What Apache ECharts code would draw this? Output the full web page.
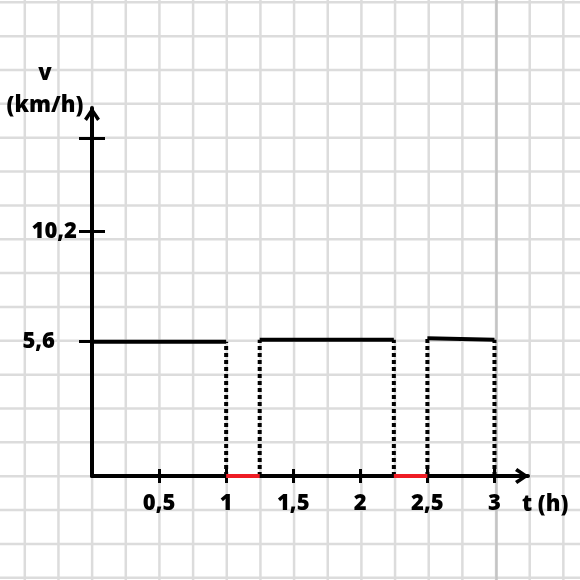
<!DOCTYPE html>
<html>
<head>
<meta charset="utf-8">
<script src="https://cdn.jsdelivr.net/npm/echarts@6/dist/echarts.min.js"></script>
<style>
html,body{margin:0;padding:0;background:#fff;}
#chart{width:580px;height:580px;}
</style>
</head>
<body>
<div id="chart"></div>
<script>
// ---- data ----
const tTicks = [0.5, 1, 1.5, 2, 2.5, 3];
const tTickLabels = ['0,5', '1', '1,5', '2', '2,5', '3'];
const vTicks = [5.6, 10.2, 14.1];
const vTickLabels = ['5,6', '10,2', ''];
const moveStart = [0, 1.25, 2.5];
const moveEnd = [1, 2.25, 3];
const moveSpeedStart = [5.6, 5.68, 5.75];
const moveSpeedEnd = [5.6, 5.68, 5.68];
const stopStart = [1, 2.25];
const stopEnd = [1.25, 2.5];
const tName = 't (h)';
const vName = 'v\n(km/h)';

// ---- styling ----
const FONT = "'Open Sans', 'DejaVu Sans', sans-serif";
const INK = '#000000';
const RED = '#ee1c24';
const chevron = 'path://M50,0 L100,74 L82,88 L50,38 L18,88 L0,74 Z';

const chart = echarts.init(document.getElementById('chart'), null, {renderer: 'canvas'});

// graph paper background (decoration)
const paper = [];
const gx0 = 24.8, gdx = 33.66, gy0 = 2.3, gdy = 33.85;
for (let k = -1; k < 19; k++) {
  const x = gx0 + gdx * k;
  paper.push({type: 'line', z: -100, silent: true,
    shape: {x1: x, y1: 0, x2: x, y2: 580},
    style: {stroke: '#dcdcdc', lineWidth: 2.5}});
}
for (let k = 0; k < 19; k++) {
  const y = gy0 + gdy * k;
  paper.push({type: 'line', z: -100, silent: true,
    shape: {x1: 0, y1: y, x2: 580, y2: y},
    style: {stroke: '#dcdcdc', lineWidth: 2.5}});
}
paper.push({type: 'line', z: -99, silent: true,
  shape: {x1: 496.5, y1: 0, x2: 496.5, y2: 580},
  style: {stroke: '#c4c4c4', lineWidth: 2.5}});

const series = [];
// moving segments
moveStart.forEach((s, i) => {
  series.push({type: 'line', xAxisIndex: 0, yAxisIndex: 0, showSymbol: false, silent: true,
    z: 5, lineStyle: {color: INK, width: 4},
    data: [[s, moveSpeedStart[i]], [moveEnd[i], moveSpeedEnd[i]]]});
});
// dotted drop lines at every boundary
const drops = [];
moveStart.forEach((s, i) => {
  if (s > 0) drops.push([s, moveSpeedStart[i]]);
  drops.push([moveEnd[i], moveSpeedEnd[i]]);
});
drops.forEach(d => {
  series.push({type: 'line', xAxisIndex: 0, yAxisIndex: 0, showSymbol: false, silent: true,
    z: 4, lineStyle: {color: INK, width: 4, type: [4, 3]},
    data: [[d[0], 0], [d[0], d[1]]]});
});
// stops (speed 0)
stopStart.forEach((s, i) => {
  series.push({type: 'line', xAxisIndex: 0, yAxisIndex: 0, showSymbol: false, silent: true,
    z: 6, lineStyle: {color: RED, width: 4},
    data: [[s, 0], [stopEnd[i], 0]]});
});

const labelStyle = {color: INK, fontFamily: FONT, fontWeight: 800, fontSize: 22};

const option = {
  animation: false,
  backgroundColor: 'transparent',
  graphic: paper,
  grid: {left: 92, right: 52, top: 108, bottom: 104, containLabel: false},
  xAxis: [{
    type: 'value', min: 0, max: 3.25,
    name: tName, nameLocation: 'end', nameGap: -6,
    nameTextStyle: Object.assign({}, labelStyle, {align: 'left', verticalAlign: 'top', padding: [18, 0, 0, 0]}),
    axisLine: {show: true, onZero: false, lineStyle: {color: INK, width: 4},
      symbol: ['none', chevron], symbolSize: [16, 14], symbolOffset: [0, -6]},
    axisTick: {show: true, length: 7, lineStyle: {color: INK, width: 3}, customValues: tTicks},
    axisLabel: Object.assign({}, labelStyle, {margin: 17, customValues: tTicks,
      formatter: v => tTickLabels[tTicks.indexOf(v)] ?? ''}),
    splitLine: {show: false}
  }, {
    type: 'value', min: 0, max: 3.25, position: 'bottom', offset: 0,
    axisLine: {show: false},
    axisTick: {show: true, inside: true, length: 7, lineStyle: {color: INK, width: 3}, customValues: tTicks},
    axisLabel: {show: false},
    splitLine: {show: false}
  }],
  yAxis: [{
    type: 'value', min: 0, max: 15.35,
    name: vName, nameLocation: 'end', nameGap: -14,
    nameTextStyle: Object.assign({}, labelStyle, {align: 'center', verticalAlign: 'bottom', lineHeight: 32, padding: [0, 94, 0, 0]}),
    axisLine: {show: true, onZero: false, lineStyle: {color: INK, width: 4},
      symbol: ['none', chevron], symbolSize: [16, 14], symbolOffset: [0, -6]},
    axisTick: {show: true, length: 13, lineStyle: {color: INK, width: 3}, customValues: vTicks},
    axisLabel: Object.assign({}, labelStyle, {margin: 15, customValues: vTicks,
      formatter: v => {
        const s = vTickLabels[vTicks.indexOf(v)] ?? '';
        return s === '5,6' ? '{p|' + s + '}' : s;
      },
      rich: {p: Object.assign({}, labelStyle, {padding: [0, 22, 0, 0]})}}),
    splitLine: {show: false}
  }, {
    type: 'value', min: 0, max: 15.35, position: 'left', offset: 0,
    axisLine: {show: false},
    axisTick: {show: true, inside: true, length: 13, lineStyle: {color: INK, width: 3}, customValues: vTicks},
    axisLabel: {show: false},
    splitLine: {show: false}
  }],
  series: series
};
chart.setOption(option);
</script>
</body>
</html>
